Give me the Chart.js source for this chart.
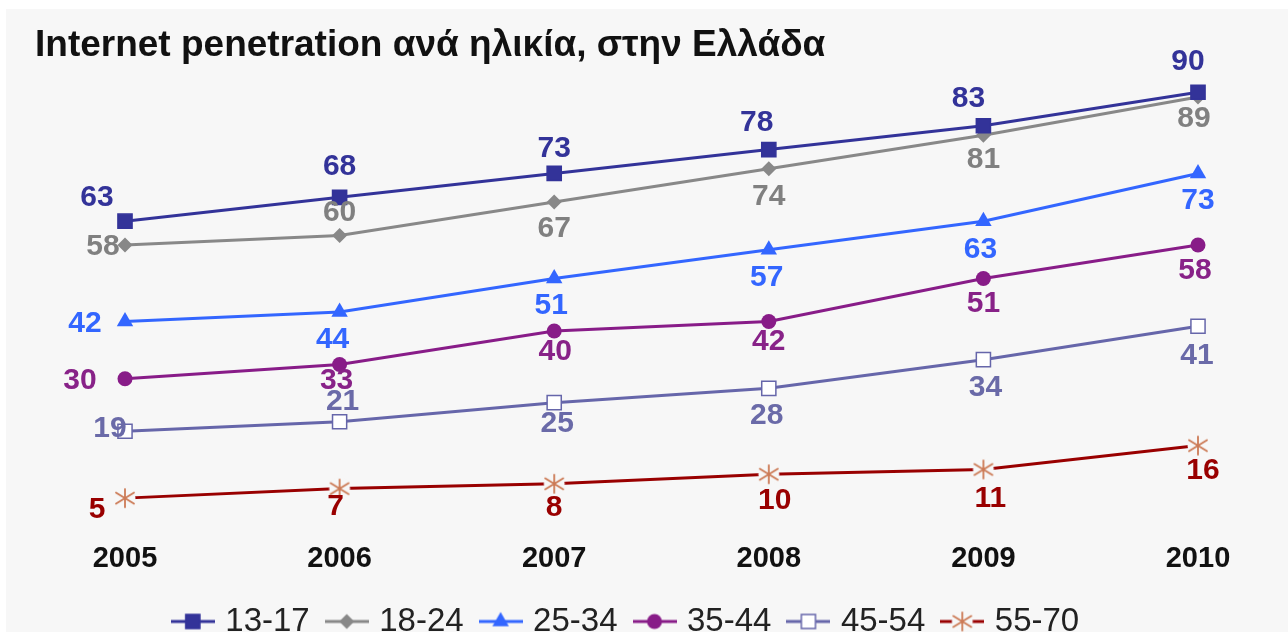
<!DOCTYPE html>
<html>
<head>
<meta charset="utf-8">
<script src="https://cdn.jsdelivr.net/npm/chart.js@4/dist/chart.umd.min.js"></script>
<style>
  html, body { margin: 0; padding: 0; background: #ffffff; overflow: hidden; }
  #wrap { position: absolute; left: 6px; top: 9px; width: 1282px; height: 639px; background: #f7f7f7; }
</style>
</head>
<body>
<div id="wrap"><canvas id="c"></canvas></div>
<script>
// ---- data ----
const years = ['2005', '2006', '2007', '2008', '2009', '2010'];
const seriesNames = ['13-17', '18-24', '25-34', '35-44', '45-54', '55-70'];
const age13_17 = [63, 68, 73, 78, 83, 90];
const age18_24 = [58, 60, 67, 74, 81, 89];
const age25_34 = [42, 44, 51, 57, 63, 73];
const age35_44 = [30, 33, 40, 42, 51, 58];
const age45_54 = [19, 21, 25, 28, 34, 41];
const age55_70 = [5, 7, 8, 10, 11, 16];
const titleText = 'Internet penetration ανά ηλικία, στην Ελλάδα';

// ---- styles ----
const FONT = "'Liberation Sans', Arial, Helvetica, sans-serif";
const BG = '#f7f7f7';
const styles = [
  { line: '#333399', label: '#333399', marker: 'rect', fill: '#333399', stroke: '#333399', r: 10 },
  { line: '#888888', label: '#808080', marker: 'rectRot', fill: '#888888', stroke: '#888888', r: 7.5 },
  { line: '#3366ff', label: '#3366ff', marker: 'triangle', fill: '#3366ff', stroke: '#3366ff', r: 9.5 },
  { line: '#881c88', label: '#882288', marker: 'circle', fill: '#881c88', stroke: '#881c88', r: 7.5 },
  { line: '#6666aa', label: '#6a6aa8', marker: 'rect', fill: '#ffffff', stroke: '#6666aa', r: 10 },
  { line: '#990000', label: '#990000', marker: 'star', fill: '#cc7a55', stroke: '#cc7a55', r: 9 }
];
// label offsets (dx, dy) relative to each point
const labelOffsets = [
  [[-28, -23], [0, -31], [0, -25], [-12, -27], [-15, -27], [-10, -31]],
  [[-22, 2], [0, -23], [0, 27], [0, 28], [0, 24], [-4, 22]],
  [[-40, 2], [-7, 28], [-3, 27], [-2, 28], [-3, 29], [0, 27]],
  [[-45, 2], [-3, 16], [1, 21], [0, 20], [0, 25], [-3, 26]],
  [[-15, -3], [3, -20], [3, 21], [-2, 27], [2, 28], [-1, 29]],
  [[-28, 12], [-4, 18], [0, 24], [6, 26], [7, 29], [5, 25]]
];

function drawStar(ctx, x, y, r, color) {
  ctx.save();
  ctx.fillStyle = BG;
  ctx.beginPath(); ctx.arc(x, y, r + 1.5, 0, Math.PI * 2); ctx.fill();
  ctx.strokeStyle = color; ctx.lineWidth = 1.8; ctx.lineCap = 'round';
  ctx.beginPath();
  ctx.moveTo(x, y - r); ctx.lineTo(x, y + r);
  const dx = r, dy = r * 0.62;
  ctx.moveTo(x - dx, y - dy); ctx.lineTo(x + dx, y + dy);
  ctx.moveTo(x - dx, y + dy); ctx.lineTo(x + dx, y - dy);
  ctx.stroke();
  ctx.restore();
}

function drawMarker(ctx, st, x, y) {
  ctx.save();
  ctx.fillStyle = st.fill; ctx.strokeStyle = st.stroke; ctx.lineWidth = 1.5;
  const r = st.r;
  ctx.beginPath();
  if (st.marker === 'rect') {
    const s = r * Math.SQRT1_2;
    ctx.rect(x - s, y - s, 2 * s, 2 * s);
    ctx.fill(); ctx.stroke();
  } else if (st.marker === 'rectRot') {
    ctx.moveTo(x, y - r); ctx.lineTo(x + r, y); ctx.lineTo(x, y + r); ctx.lineTo(x - r, y); ctx.closePath();
    ctx.fill();
  } else if (st.marker === 'triangle') {
    ctx.moveTo(x, y - r);
    ctx.lineTo(x + r * Math.sin(2 * Math.PI / 3), y - r * Math.cos(2 * Math.PI / 3));
    ctx.lineTo(x - r * Math.sin(2 * Math.PI / 3), y - r * Math.cos(2 * Math.PI / 3));
    ctx.closePath(); ctx.fill();
  } else if (st.marker === 'circle') {
    ctx.arc(x, y, r, 0, Math.PI * 2); ctx.fill();
  } else if (st.marker === 'star') {
    drawStar(ctx, x, y, r, st.stroke);
  }
  ctx.restore();
}

function makeStarImage(st) {
  const c = document.createElement('canvas');
  const size = Math.ceil(st.r * 2 + 6);
  c.width = size; c.height = size;
  drawStar(c.getContext('2d'), size / 2, size / 2, st.r, st.stroke);
  return c;
}

function makeLegendImage(st) {
  const c = document.createElement('canvas');
  c.width = 44; c.height = 24;
  const ctx = c.getContext('2d');
  ctx.strokeStyle = st.line; ctx.lineWidth = 3;
  ctx.beginPath(); ctx.moveTo(0, 12); ctx.lineTo(44, 12); ctx.stroke();
  drawMarker(ctx, st, 22, 12);
  return c;
}

const allSeries = [age13_17, age18_24, age25_34, age35_44, age45_54, age55_70];
const legendImgs = styles.map(makeLegendImage);

const datasets = allSeries.map((vals, i) => {
  const st = styles[i];
  const ds = {
    label: seriesNames[i],
    data: vals,
    borderColor: st.line,
    backgroundColor: st.fill,
    borderWidth: 3,
    tension: 0,
    clip: false,
    pointRadius: st.r,
    pointHoverRadius: st.r,
    pointBackgroundColor: st.fill,
    pointBorderColor: st.stroke,
    pointBorderWidth: st.marker === 'rect' ? 1.5 : 0,
    pointStyle: st.marker,
    labelColor: st.label,
    labelOffsets: labelOffsets[i]
  };
  if (st.marker === 'star') ds.pointStyle = makeStarImage(st);
  return ds;
});

const valueLabels = {
  id: 'valueLabels',
  afterDatasetsDraw(chart) {
    const ctx = chart.ctx;
    ctx.save();
    ctx.font = 'bold 30px ' + FONT;
    ctx.textAlign = 'center';
    ctx.textBaseline = 'middle';
    chart.data.datasets.forEach((ds, di) => {
      const meta = chart.getDatasetMeta(di);
      meta.data.forEach((pt, j) => {
        const off = ds.labelOffsets[j];
        ctx.fillStyle = ds.labelColor;
        ctx.fillText(String(ds.data[j]), pt.x + off[0], pt.y + off[1]);
      });
    });
    ctx.restore();
  }
};

new Chart(document.getElementById('c'), {
  type: 'line',
  data: { labels: years, datasets },
  plugins: [valueLabels],
  options: {
    responsive: true,
    maintainAspectRatio: false,
    animation: false,
    events: [],
    layout: { padding: { left: 29, right: 67, top: 0, bottom: 0 } },
    scales: {
      x: {
        grid: { display: false, drawTicks: false },
        border: { display: false },
        ticks: { color: '#111', font: { family: FONT, size: 29, weight: 'bold' }, padding: 20, maxRotation: 0 },
        afterFit(s) { s.height = 62; }
      },
      y: {
        min: 0, max: 95,
        display: true,
        grid: { display: false, drawTicks: false },
        border: { display: false },
        ticks: { display: false },
        afterFit(s) { s.width = 90; }
      },
      y2: {
        position: 'right',
        display: true,
        grid: { display: false, drawTicks: false },
        border: { display: false },
        ticks: { display: false },
        afterFit(s) { s.width = 23; }
      }
    },
    plugins: {
      tooltip: { enabled: false },
      title: {
        display: true,
        text: titleText,
        align: 'start',
        color: '#111',
        font: { family: FONT, size: 37, weight: 'bold' },
        padding: { top: 15, bottom: 0 }
      },
      legend: {
        position: 'bottom',
        labels: {
          usePointStyle: true,
          pointStyleWidth: 32,
          padding: 21,
          color: '#222',
          font: { family: FONT, size: 33 },
          generateLabels(chart) {
            return chart.data.datasets.map((ds, i) => ({
              text: ds.label,
              pointStyle: legendImgs[i],
              fillStyle: styles[i].fill,
              strokeStyle: styles[i].line,
              lineWidth: 0,
              fontColor: '#222',
              hidden: false,
              datasetIndex: i
            }));
          }
        }
      }
    }
  }
});
</script>
</body>
</html>
